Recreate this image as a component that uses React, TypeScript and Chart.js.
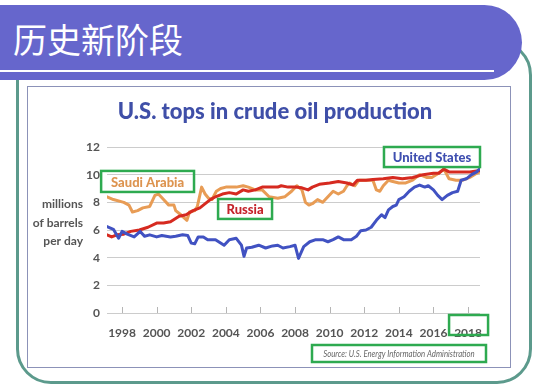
import { useEffect, useRef } from 'react';
import { Chart, registerables } from 'chart.js';

Chart.register(...registerables);

// ---- Data (millions of barrels per day) ----
const xTicks = [1998, 2000, 2002, 2004, 2006, 2008, 2010, 2012, 2014, 2016, 2018];
const yTicks = [0, 2, 4, 6, 8, 10, 12];

const saudiYears = [1997.13, 1997.5, 1998.1, 1998.4, 1998.6, 1998.9, 1999.2, 1999.6, 1999.9, 2000.1, 2000.4, 2000.7, 2001.0, 2001.1, 2001.4, 2001.75, 2001.9, 2002.2, 2002.35, 2002.6, 2002.8, 2003.0, 2003.2, 2003.45, 2003.7, 2004.0, 2004.6, 2005.0, 2005.3, 2005.7, 2006.1, 2006.5, 2007.0, 2007.4, 2007.8, 2008.1, 2008.4, 2008.6, 2008.8, 2009.0, 2009.3, 2009.6, 2009.9, 2010.2, 2010.5, 2010.8, 2011.0, 2011.15, 2011.45, 2011.7, 2012.1, 2012.5, 2012.7, 2012.9, 2013.1, 2013.4, 2013.65, 2014.0, 2014.4, 2014.8, 2015.2, 2015.6, 2015.9, 2016.3, 2016.6, 2016.9, 2017.3, 2017.7, 2018.1, 2018.5, 2018.69];
const saudiValues = [8.4, 8.2, 8.0, 7.8, 7.3, 7.4, 7.6, 7.7, 8.5, 8.6, 8.2, 7.8, 7.8, 7.4, 7.1, 6.7, 7.3, 7.4, 7.7, 9.1, 8.6, 8.3, 8.2, 8.8, 9.0, 9.1, 9.1, 9.2, 9.1, 8.9, 8.9, 8.4, 8.3, 8.4, 8.8, 9.2, 8.9, 8.0, 7.8, 7.9, 8.2, 8.0, 8.4, 8.8, 8.6, 8.8, 9.2, 9.4, 9.2, 9.6, 9.6, 9.6, 8.9, 8.8, 9.2, 9.6, 9.5, 9.4, 9.4, 9.6, 10.0, 9.8, 9.8, 10.1, 10.4, 9.7, 9.6, 9.6, 9.8, 10.1, 10.2];

const russiaYears = [1997.13, 1997.4, 1997.7, 1998.1, 1998.5, 1999.0, 1999.5, 2000.0, 2000.4, 2000.8, 2001.05, 2001.3, 2001.7, 2002.1, 2002.5, 2002.9, 2003.1, 2003.4, 2003.8, 2004.2, 2004.6, 2005.0, 2005.3, 2005.7, 2006.1, 2006.7, 2007.0, 2007.2, 2007.6, 2008.0, 2008.4, 2008.75, 2009.0, 2009.4, 2010.0, 2010.5, 2011.0, 2011.35, 2011.6, 2012.1, 2012.5, 2013.1, 2013.65, 2014.2, 2014.8, 2015.4, 2016.0, 2016.3, 2016.6, 2016.9, 2017.5, 2018.1, 2018.69];
const russiaValues = [5.65, 5.5, 5.65, 5.7, 5.9, 6.0, 6.2, 6.5, 6.5, 6.6, 6.8, 7.0, 7.1, 7.4, 7.6, 8.0, 8.2, 8.4, 8.6, 8.7, 8.6, 8.9, 8.8, 8.9, 9.1, 9.1, 9.1, 9.2, 9.1, 9.1, 9.05, 8.9, 9.1, 9.3, 9.4, 9.5, 9.4, 9.25, 9.6, 9.6, 9.65, 9.7, 9.8, 9.7, 9.8, 10.0, 10.1, 10.1, 10.4, 10.2, 10.2, 10.2, 10.3];

const usYears = [1997.13, 1997.5, 1997.8, 1998.0, 1998.3, 1998.7, 1999.05, 1999.3, 1999.6, 2000.0, 2000.3, 2000.8, 2001.1, 2001.5, 2001.8, 2002.0, 2002.2, 2002.4, 2002.7, 2002.95, 2003.4, 2003.9, 2004.2, 2004.6, 2004.9, 2005.05, 2005.2, 2005.5, 2005.9, 2006.3, 2006.7, 2007.0, 2007.3, 2007.7, 2008.0, 2008.2, 2008.5, 2008.85, 2009.2, 2009.6, 2009.9, 2010.2, 2010.5, 2010.8, 2011.25, 2011.55, 2011.8, 2012.1, 2012.4, 2012.7, 2013.0, 2013.2, 2013.4, 2013.65, 2013.85, 2014.0, 2014.3, 2014.6, 2014.9, 2015.2, 2015.5, 2015.7, 2016.0, 2016.25, 2016.5, 2016.8, 2017.1, 2017.4, 2017.6, 2017.9, 2018.2, 2018.5, 2018.69];
const usValues = [6.25, 6.05, 5.4, 5.9, 5.7, 5.5, 5.9, 5.55, 5.65, 5.5, 5.6, 5.5, 5.55, 5.65, 5.6, 5.05, 5.0, 5.5, 5.5, 5.3, 5.3, 4.9, 5.3, 5.4, 4.9, 4.1, 4.7, 4.75, 4.9, 4.7, 4.85, 4.9, 4.7, 4.8, 4.9, 3.95, 4.8, 5.15, 5.3, 5.3, 5.15, 5.3, 5.5, 5.3, 5.3, 5.55, 5.95, 6.0, 6.2, 6.7, 7.1, 6.9, 7.45, 7.7, 7.8, 8.2, 8.4, 8.8, 9.1, 9.25, 9.1, 9.2, 8.9, 8.5, 8.2, 8.5, 8.7, 8.8, 9.6, 9.7, 10.0, 10.2, 10.45];

const seriesNames = ['United States', 'Russia', 'Saudi Arabia'];
const seriesColors = ['#4152c2', '#d62a20', '#e89c55'];
const labelColors = ['#3f4fb0', '#c4232b', '#dd9450'];

const chartTitle = 'U.S. tops in crude oil production';
const yTitleLines = ['millions', 'of barrels', 'per day'];
const sourceText = 'Source: U.S. Energy Information Administration';
const slideTitle = '历史新阶段';

const toPoints = (xs: number[], ys: number[]) => xs.map((x, i) => ({ x, y: ys[i] }));

// annotation boxes in data coordinates [x0, x1, yTop, yBottom]
const labelBoxes = [
  { name: 'Saudi Arabia', colorIdx: 2, box: [1996.79, 2002.16, 10.27, 8.75] },
  { name: 'Russia', colorIdx: 1, box: [2003.55, 2006.67, 8.24, 6.8] },
  { name: 'United States', colorIdx: 0, box: [2013.14, 2018.69, 12.0, 10.55] },
];

const GREEN = '#2eaa50';
const GRAY_TEXT = '#555555';

const overlayPlugin = {
  id: 'overlay',
  beforeDatasetsDraw(chart: any) {
    const { ctx, chartArea, scales } = chart;
    const xs = scales.x;
    ctx.save();
    ctx.strokeStyle = '#b5b5b5';
    ctx.lineWidth = 1;
    xTicks.forEach((v) => {
      const px = Math.round(xs.getPixelForValue(v)) + 0.5;
      ctx.beginPath();
      ctx.moveTo(px, chartArea.bottom);
      ctx.lineTo(px, chartArea.bottom - 6);
      ctx.stroke();
    });
    ctx.restore();
  },
  afterDraw(chart: any) {
    const { ctx, chartArea, scales, width } = chart;
    const xs = scales.x;
    const ys = scales.y;
    ctx.save();
    // title
    ctx.fillStyle = '#3f4fa8';
    ctx.font = '900 22px Lato';
    ctx.textAlign = 'center';
    ctx.textBaseline = 'middle';
    ctx.fillText(chartTitle, width / 2 + 6, 25);

    // y axis title
    ctx.fillStyle = GRAY_TEXT;
    ctx.font = 'bold 12px Lato';
    ctx.textAlign = 'right';
    const midY = ys.getPixelForValue(6.5);
    yTitleLines.forEach((t, i) => {
      ctx.fillText(t, chartArea.left - 24, midY + (i - 1) * 18.5);
    });

    // labelled boxes
    ctx.lineWidth = 2.5;
    ctx.strokeStyle = GREEN;
    labelBoxes.forEach((lb) => {
      const x0 = xs.getPixelForValue(lb.box[0]);
      const x1 = xs.getPixelForValue(lb.box[1]);
      const y0 = ys.getPixelForValue(lb.box[2]);
      const y1 = ys.getPixelForValue(lb.box[3]);
      ctx.strokeRect(x0, y0, x1 - x0, y1 - y0);
      ctx.fillStyle = labelColors[lb.colorIdx];
      ctx.font = '900 13px Lato';
      ctx.textAlign = 'center';
      ctx.textBaseline = 'middle';
      ctx.fillText(lb.name, (x0 + x1) / 2, (y0 + y1) / 2 + 1);
    });

    // box around 2018 tick label
    const p2018 = xs.getPixelForValue(2018);
    ctx.strokeRect(p2018 - 19, chartArea.bottom + 2, 39, 20);

    // source
    const sx1 = chartArea.right + 6;
    const sx0 = sx1 - 174;
    const sy0 = chartArea.bottom + 32;
    ctx.strokeRect(sx0, sy0, sx1 - sx0, 17);
    ctx.save();
    ctx.translate((sx0 + sx1) / 2, sy0 + 9);
    ctx.scale(0.82, 1);
    ctx.fillStyle = '#666';
    ctx.font = 'italic 9.5px Lato';
    ctx.textAlign = 'center';
    ctx.textBaseline = 'middle';
    ctx.fillText(sourceText, 0, 0);
    ctx.restore();

    ctx.restore();
  },
};

export default function App() {
  const ref = useRef<HTMLCanvasElement>(null);
  useEffect(() => {
    const chart = new Chart(ref.current as HTMLCanvasElement, {
      type: 'line',
      data: {
        datasets: [
          { label: seriesNames[0], data: toPoints(usYears, usValues) },
          { label: seriesNames[1], data: toPoints(russiaYears, russiaValues) },
          { label: seriesNames[2], data: toPoints(saudiYears, saudiValues) },
        ].map((d, i) => ({
          ...d,
          borderColor: seriesColors[i],
          backgroundColor: seriesColors[i],
          borderWidth: 3,
          pointRadius: 0,
          tension: 0,
          fill: false,
          borderJoinStyle: 'round' as const,
          borderCapStyle: 'round' as const,
        })),
      },
      options: {
        animation: false,
        responsive: false,
        layout: { padding: { top: 60, right: 30, left: 0, bottom: 0 } },
        plugins: {
          legend: { display: false },
          tooltip: { enabled: false },
          title: { display: false },
        },
        scales: {
          x: {
            type: 'linear',
            min: 1997.13,
            max: 2018.69,
            afterBuildTicks: (s: any) => {
              s.ticks = xTicks.map((v) => ({ value: v }));
            },
            afterFit: (s: any) => {
              s.height = 54;
            },
            grid: { display: false },
            border: { display: false },
            ticks: {
              padding: 5,
              autoSkip: false,
              maxRotation: 0,
              color: GRAY_TEXT,
              font: { family: 'Lato', size: 12, weight: 'bold' },
              callback: (v: any) => String(v),
            },
          },
          y: {
            type: 'linear',
            min: 0,
            max: 12,
            afterBuildTicks: (s: any) => {
              s.ticks = yTicks.map((v) => ({ value: v }));
            },
            afterFit: (s: any) => {
              s.width = 79;
            },
            grid: { color: '#cccccc', drawTicks: false, lineWidth: 1 },
            border: { display: false },
            ticks: {
              padding: 7,
              color: GRAY_TEXT,
              font: { family: 'Lato', size: 12, weight: 'bold' },
              callback: (v: any) => String(v),
            },
          },
        },
      },
      plugins: [overlayPlugin],
    } as any);
    return () => chart.destroy();
  }, []);

  return (
    <div style={{ position: 'absolute', left: 0, top: 0, width: 550, height: 391, background: '#fff', overflow: 'hidden' }}>
      {/* teal frame */}
      <div
        style={{
          position: 'absolute', left: 16, top: 40, width: 516, height: 344,
          boxSizing: 'border-box', border: '3px solid #5c9a8c', borderRadius: 35,
        }}
      />
      {/* banner */}
      <div
        style={{
          position: 'absolute', left: 0, top: 5, width: 522, height: 75,
          background: '#6666cc', borderRadius: '0 38px 38px 0',
        }}
      />
      <div style={{ position: 'absolute', left: 0, top: 70, width: 494, height: 2, background: '#ffffff' }} />
      <div
        style={{
          position: 'absolute', left: 13, top: 21, fontSize: 34, lineHeight: '36px',
          fontFamily: '"Noto Sans CJK SC", sans-serif', color: '#ffffff', whiteSpace: 'nowrap',
        }}
      >
        {slideTitle}
      </div>
      {/* chart panel */}
      <div
        style={{
          position: 'absolute', left: 27, top: 86, width: 484, height: 282,
          boxSizing: 'border-box', border: '1px solid #8c92b8', background: '#fff',
        }}
      >
        <canvas ref={ref} width={482} height={280} style={{ display: 'block', width: 482, height: 280 }} />
      </div>
    </div>
  );
}
